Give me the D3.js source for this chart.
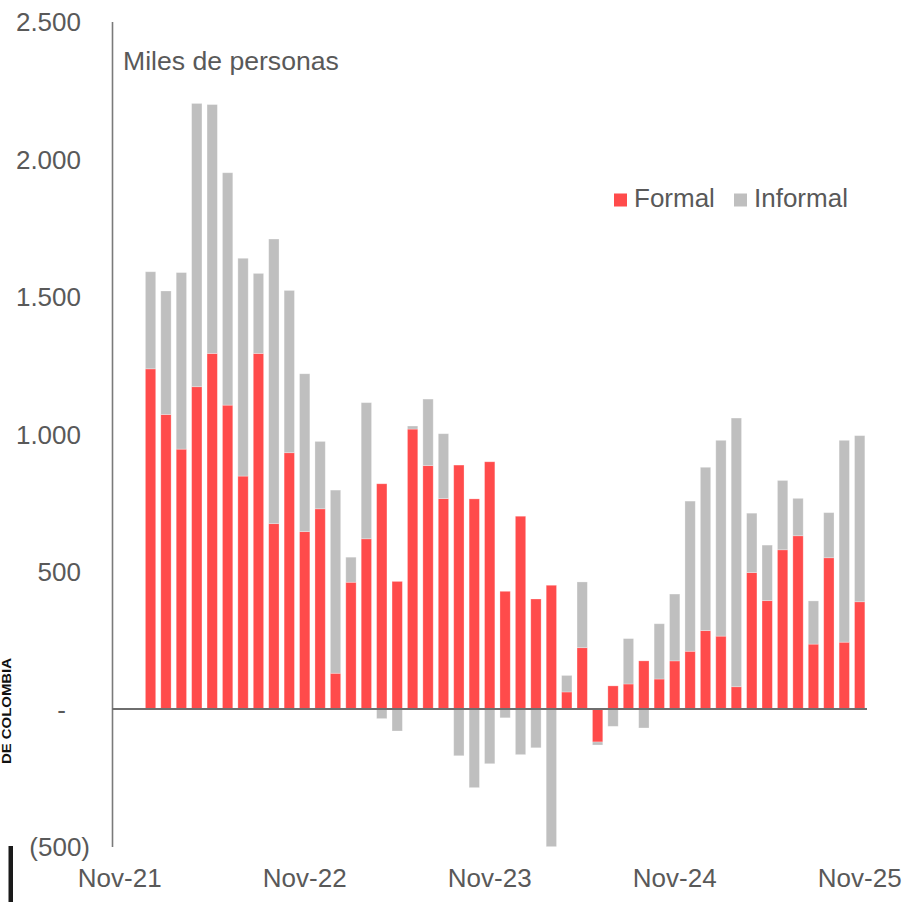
<!DOCTYPE html>
<html>
<head>
<meta charset="utf-8">
<script src="https://cdn.jsdelivr.net/npm/d3@7"></script>
<style>
  html, body { margin: 0; padding: 0; background: #ffffff; }
  svg { display: block; }
  text { font-family: "Liberation Sans", Arial, sans-serif; }
</style>
</head>
<body>
<svg id="chart" width="914" height="902"></svg>
<script>
// Monthly categories, Nov-21 to Nov-25
const categories = [
  "Nov-21","Dic-21",
  "Ene-22","Feb-22","Mar-22","Abr-22","May-22","Jun-22","Jul-22","Ago-22","Sep-22","Oct-22","Nov-22","Dic-22",
  "Ene-23","Feb-23","Mar-23","Abr-23","May-23","Jun-23","Jul-23","Ago-23","Sep-23","Oct-23","Nov-23","Dic-23",
  "Ene-24","Feb-24","Mar-24","Abr-24","May-24","Jun-24","Jul-24","Ago-24","Sep-24","Oct-24","Nov-24","Dic-24",
  "Ene-25","Feb-25","Mar-25","Abr-25","May-25","Jun-25","Jul-25","Ago-25","Sep-25","Oct-25","Nov-25"
];

// Miles de personas
const formal = [
  null, null,
  1237, 1071, 945, 1172, 1293, 1105, 847, 1293, 674, 932, 645, 728,
  130, 461, 619, 819, 464, 1018, 885, 765, 887, 764, 899, 428,
  701, 400, 450, 62, 223, -120, 84, 91, 175, 109, 175, 210,
  285, 265, 81, 496, 394, 579, 630, 236, 550, 243, 390
];
const informal = [
  null, null,
  353, 449, 642, 1030, 905, 845, 792, 291, 1035, 590, 574, 245,
  666, 91, 495, -35, -80, 11, 242, 236, -170, -286, -199, -32,
  -166, -141, -505, 60, 239, -11, -63, 165, -69, 201, 243, 546,
  594, 712, 977, 216, 202, 252, 136, 157, 164, 734, 604
];

const seriesNames = ["Formal", "Informal"];
const seriesColors = ["#ff4b4b", "#bfbfbf"];

const yTicks = [-500, 0, 500, 1000, 1500, 2000, 2500];
const xTickLabels = ["Nov-21", "Nov-22", "Nov-23", "Nov-24", "Nov-25"];

const svg = d3.select("#chart");
const textColor = "#595959";

const x = d3.scaleBand()
  .domain(categories)
  .range([112, 867.4])
  .paddingInner(0.33)
  .paddingOuter(0.165);

const y = d3.scaleLinear()
  .domain([-500, 2500])
  .range([846.5, 21.5]);

// Stack positives upward and negatives downward, series by series
const rows = categories.map((c, i) => ({ cat: c, values: [formal[i], informal[i]] }));
const segments = [];
rows.forEach(r => {
  let pos = 0, neg = 0;
  r.values.forEach((v, s) => {
    if (v === null || v === undefined) return;
    let y0, y1;
    if (v >= 0) { y0 = pos; y1 = pos + v; pos = y1; }
    else { y0 = neg; y1 = neg + v; neg = y1; }
    segments.push({ cat: r.cat, s, y0, y1 });
  });
});

svg.append("clipPath").attr("id", "plot-clip")
  .append("rect")
  .attr("x", 112).attr("y", y(2500))
  .attr("width", 760).attr("height", y(-500) - y(2500));

svg.append("g")
  .attr("clip-path", "url(#plot-clip)")
  .selectAll("rect")
  .data(segments)
  .join("rect")
  .attr("x", d => x(d.cat))
  .attr("width", x.bandwidth())
  .attr("y", d => y(Math.max(d.y0, d.y1)))
  .attr("height", d => Math.abs(y(d.y0) - y(d.y1)))
  .attr("fill", d => seriesColors[d.s])
  .attr("stroke", "#ffffff")
  .attr("stroke-opacity", 0.35)
  .attr("stroke-width", 0.8);

// Y axis
const fmt = d => {
  if (d === 0) return "-";
  const s = d3.format(",")(Math.abs(d)).replace(/,/g, ".");
  return d < 0 ? "(" + s + ")" : s;
};
const yAxis = svg.append("g")
  .attr("transform", "translate(112,0)")
  .call(d3.axisLeft(y).tickValues(yTicks).tickSize(0).tickPadding(0).tickFormat(fmt));
yAxis.select(".domain")
  .attr("stroke", "#7a7a7a")
  .attr("stroke-width", 1.6);
yAxis.selectAll(".tick text")
  .attr("fill", textColor)
  .attr("font-size", 26)
  .attr("font-family", "'Liberation Sans', Arial, sans-serif")
  .attr("dy", "0.36em")
  .attr("x", d => d < 0 ? -22 : (d === 0 ? -46 : -31));

// Zero line
svg.append("line")
  .attr("x1", 112).attr("x2", 867)
  .attr("y1", y(0)).attr("y2", y(0))
  .attr("stroke", "#6e6e6e")
  .attr("stroke-width", 2.2);

// X axis labels
const xAxis = svg.append("g")
  .attr("transform", "translate(0,846.5)")
  .call(d3.axisBottom(x).tickValues(xTickLabels).tickSize(0).tickPadding(0));
xAxis.select(".domain").remove();
xAxis.selectAll(".tick text")
  .attr("fill", textColor)
  .attr("font-size", 26)
  .attr("font-family", "'Liberation Sans', Arial, sans-serif")
  .attr("dy", 0)
  .attr("y", 40.5);

// Units label
svg.append("text")
  .attr("x", 123).attr("y", 70)
  .attr("fill", textColor)
  .attr("font-size", 26.6)
  .text("Miles de personas");

// Legend
const legendX = [614, 734];
seriesNames.forEach((name, i) => {
  svg.append("rect")
    .attr("x", legendX[i]).attr("y", 193.5)
    .attr("width", 13).attr("height", 13)
    .attr("fill", seriesColors[i]);
  svg.append("text")
    .attr("x", legendX[i] + 20).attr("y", 207)
    .attr("fill", textColor)
    .attr("font-size", 26)
    .text(name);
});

// Source mark on the left edge
svg.append("text")
  .attr("transform", "translate(10.5,764) rotate(-90)")
  .attr("font-family", "'Liberation Sans Narrow', 'Liberation Sans', Arial, sans-serif")
  .attr("font-weight", "bold")
  .attr("font-size", 12.5)
  .attr("textLength", 106)
  .attr("lengthAdjust", "spacingAndGlyphs")
  .attr("fill", "#111111")
  .text("DE COLOMBIA");
svg.append("rect")
  .attr("x", 8.5).attr("y", 846)
  .attr("width", 4.5).attr("height", 56)
  .attr("fill", "#1a1a1a");
</script>
</body>
</html>
